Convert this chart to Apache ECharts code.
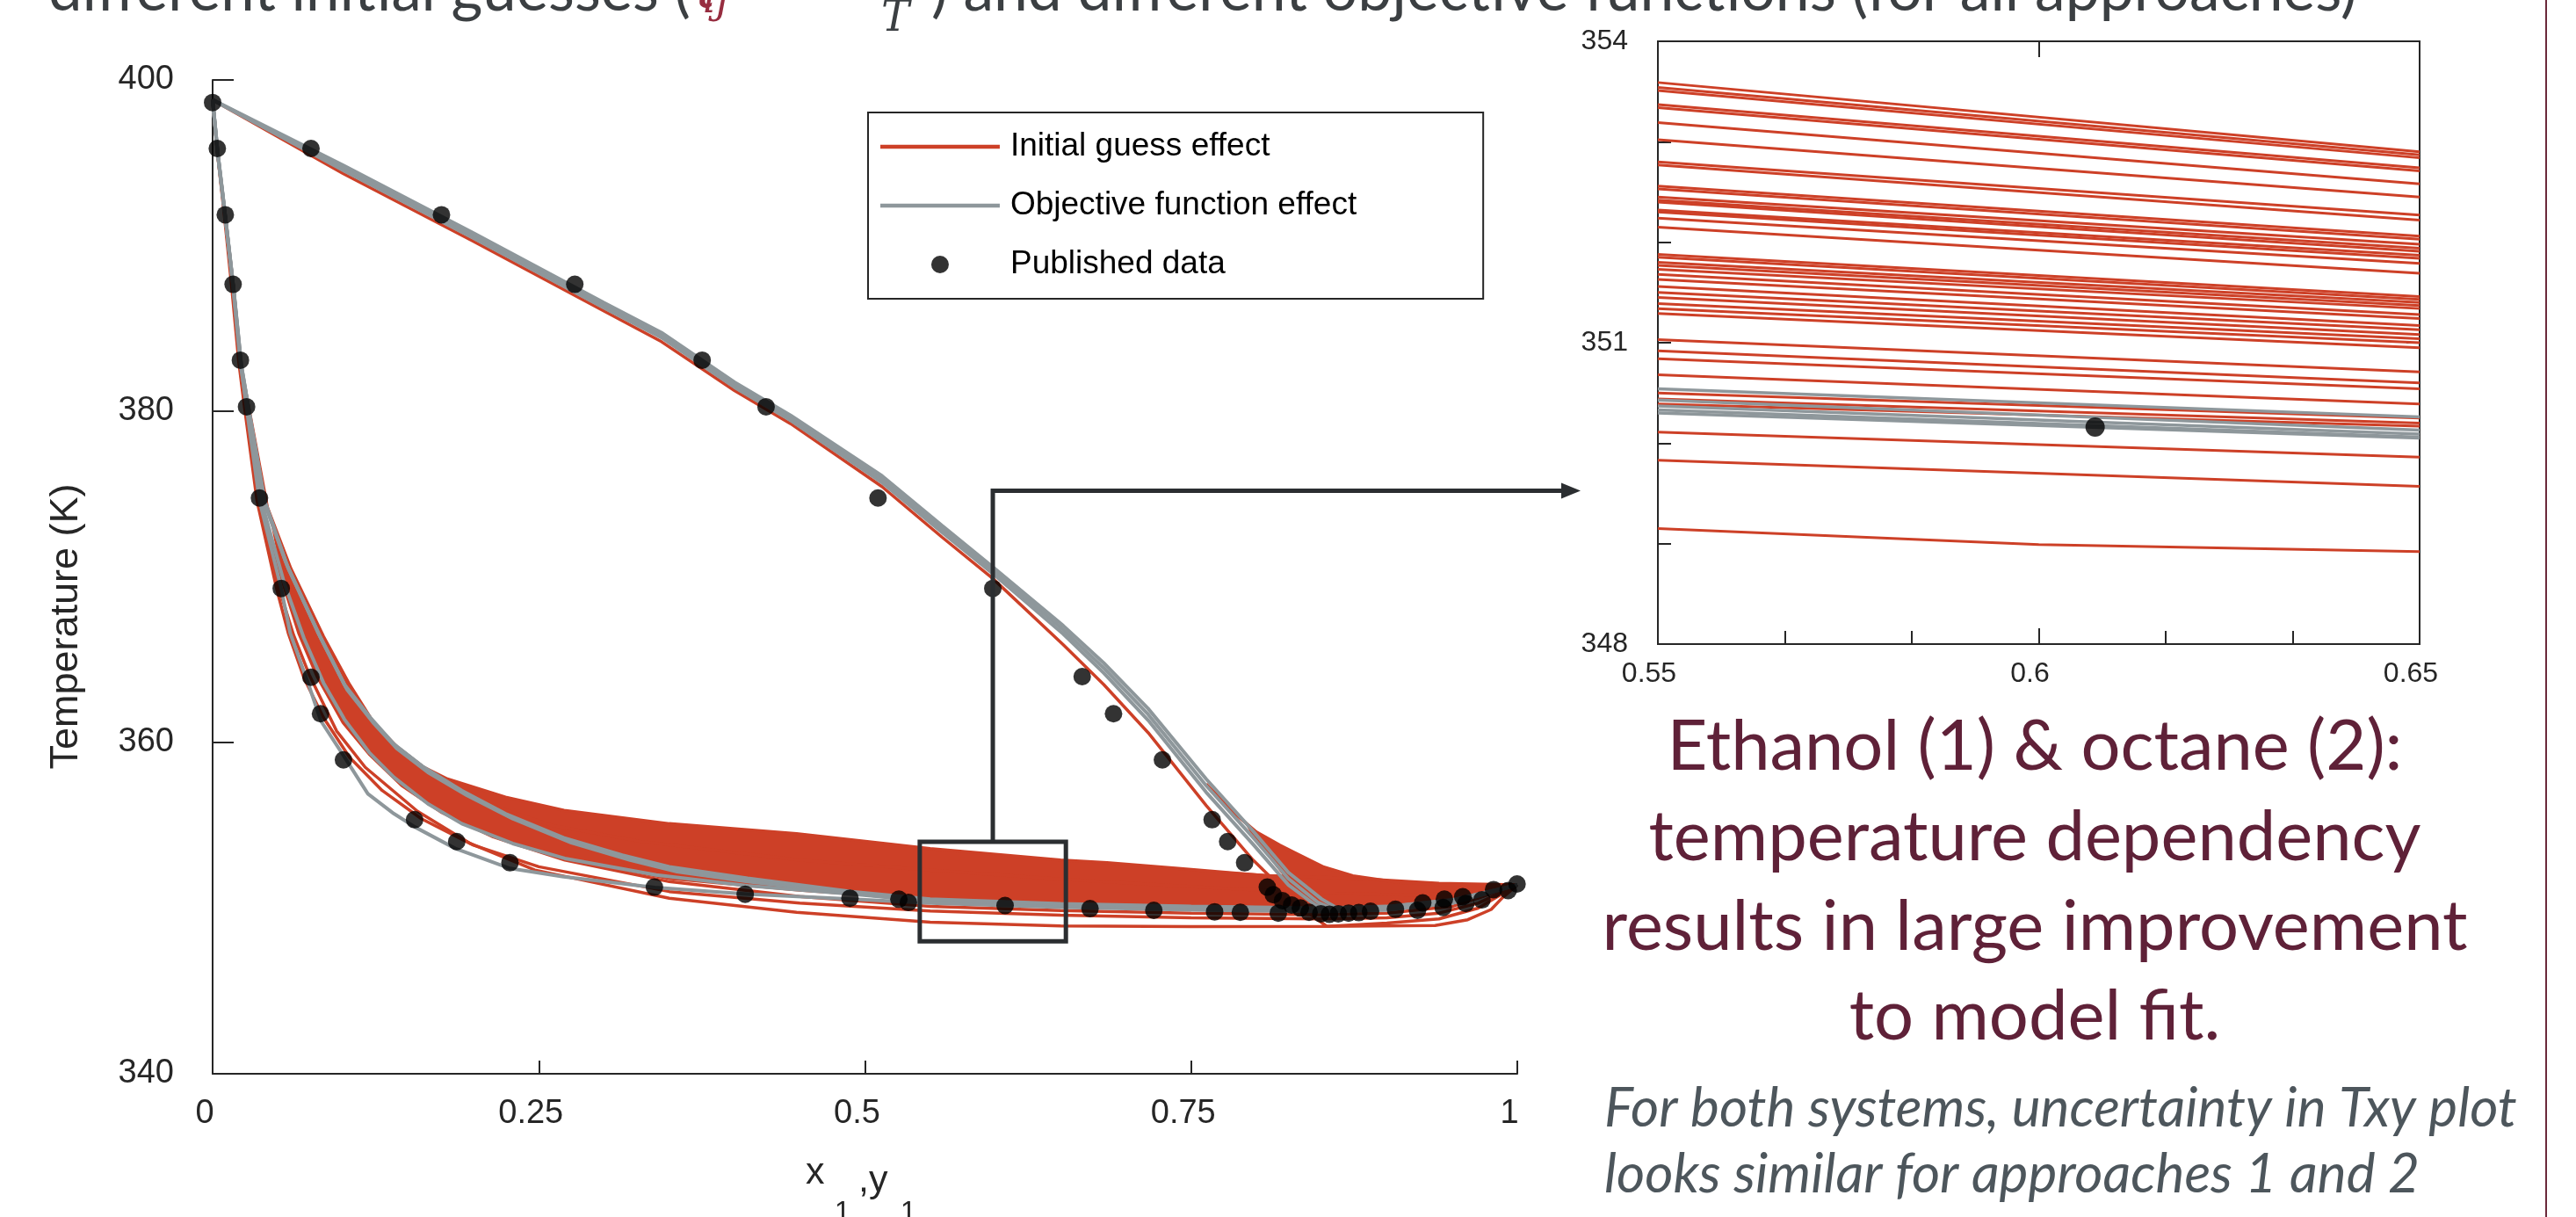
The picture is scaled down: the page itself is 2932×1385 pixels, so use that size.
<!DOCTYPE html>
<html>
<head>
<meta charset="utf-8">
<script src="https://cdn.jsdelivr.net/npm/echarts/dist/echarts.min.js"></script>
<style>
  html, body { margin: 0; padding: 0; background: #fff; }
  #main { width: 2932px; height: 1385px; }
</style>
</head>
<body>
<div id="main"></div>
<script>
// published points, x1 or y1 against T (K)
var pubX = [0, 0.0036, 0.0754, 0.0097, 0.1754, 0.0157, 0.2776, 0.0213, 0.3752, 0.026, 0.4242,
  0.0359, 0.510, 0.0526, 0.598, 0.0754, 0.6665, 0.0827, 0.6905, 0.1003, 0.728, 0.1548, 0.7661,
  0.1871, 0.778, 0.2279, 0.791, 0.3386, 0.8084, 0.4082, 0.813, 0.4885, 0.820, 0.526, 0.827,
  0.5333, 0.8337, 0.6074, 0.6725, 0.7214, 0.768, 0.7877, 0.8168, 0.8404, 0.8494, 0.856, 0.8628,
  0.8707, 0.8785, 0.8875, 0.9066, 0.9235, 0.9275, 0.9432, 0.9441, 0.9582, 0.9605, 0.9729,
  0.9818, 0.993, 0.9998];
var pubT = [398.64, 395.86, 395.86, 391.86, 391.86, 387.66, 387.66, 383.08, 383.08, 380.27, 380.27,
  374.76, 374.76, 369.3, 369.3, 363.94, 363.98, 361.74, 361.74, 358.95, 358.95, 355.34, 355.34,
  354.02, 354.02, 352.74, 352.74, 351.27, 351.27, 350.84, 350.81, 350.6, 350.45, 350.54, 350.19,
  350.34, 350.01, 350.16, 349.97, 349.87, 349.78, 349.75, 349.7, 349.75, 349.66, 349.63, 349.66,
  349.7, 349.73, 349.81, 349.93, 349.87, 350.32, 350.04, 350.54, 350.69, 350.28, 350.5,
  351.12, 351.06, 351.46];

// objective function effect (grey)
var gBub1 = [[0,398.8],[0.0036,395.8],[0.0097,391.8],[0.0157,387.6],[0.0213,383.0],[0.026,380.2],[0.0359,374.6],[0.0526,369.3],[0.0595,366.6],[0.074,363.4],[0.083,361.3],[0.0988,359.4],[0.119,356.9],[0.139,355.7],[0.155,354.9],[0.186,353.6],[0.228,352.4],[0.269,351.9],[0.339,351.25],[0.41,350.85],[0.49,350.55],[0.55,350.3],[0.65,350.05],[0.75,349.9],[0.85,349.8],[0.9,349.9],[0.95,350.3],[1,351.4]];
var gBub2 = [[0,398.8],[0.0036,395.7],[0.0097,391.7],[0.0157,387.5],[0.0213,382.9],[0.027,379.9],[0.038,374.4],[0.055,369.6],[0.07,366.3],[0.085,363.6],[0.101,361.4],[0.12,359.4],[0.139,357.9],[0.165,356.3],[0.191,355.1],[0.23,353.9],[0.27,353.0],[0.34,352.0],[0.41,351.35],[0.49,350.85],[0.55,350.43],[0.65,350.15],[0.75,350.0],[0.85,349.9],[0.9,350.0],[0.95,350.4],[1,351.4]];
var gBub3 = [[0,398.8],[0.004,395.5],[0.01,391.5],[0.016,387.4],[0.022,382.7],[0.028,379.9],[0.04,374.4],[0.056,370.9],[0.081,366.6],[0.101,363.5],[0.121,361.5],[0.139,359.9],[0.162,358.5],[0.191,357.1],[0.2245,355.7],[0.269,354.25],[0.314,353.2],[0.35,352.5],[0.41,351.8],[0.49,351.0],[0.55,350.54],[0.65,350.26],[0.75,350.1],[0.85,350.0],[0.9,350.1],[0.95,350.5],[1,351.4]];
var gBub4 = [[0,398.8],[0.004,395.55],[0.01,391.55],[0.016,387.45],[0.022,382.75],[0.028,379.95],[0.04,374.5],[0.057,370.7],[0.082,366.45],[0.102,363.35],[0.122,361.35],[0.14,359.8],[0.164,358.35],[0.193,356.95],[0.227,355.55],[0.272,354.1],[0.317,353.05],[0.353,352.35],[0.41,351.7],[0.49,350.95],[0.55,350.5],[0.65,350.22],[0.75,350.08],[0.85,349.98],[0.9,350.08],[0.95,350.48],[1,351.4]];
var gBub5 = [[0,398.8],[0.004,395.6],[0.01,391.6],[0.016,387.5],[0.022,382.8],[0.028,380.0],[0.04,374.6],[0.058,370.5],[0.083,366.3],[0.103,363.2],[0.123,361.2],[0.141,359.65],[0.165,358.2],[0.195,356.8],[0.23,355.4],[0.275,353.95],[0.32,352.9],[0.356,352.2],[0.41,351.6],[0.49,350.9],[0.55,350.37],[0.65,350.1],[0.75,349.97],[0.85,349.88],[0.9,349.98],[0.95,350.4],[1,351.4]];
var gDew1 = [[0,398.8],[0.1,394.7],[0.2,390.6],[0.3,386.4],[0.344,384.6],[0.4,381.6],[0.443,379.6],[0.513,375.9],[0.559,372.9],[0.598,370.4],[0.652,366.8],[0.683,364.5],[0.717,361.7],[0.7615,357.4],[0.7975,354.26],[0.8246,351.78],[0.847,350.36],[0.86,349.9],[0.9,349.95],[0.95,350.35],[1,351.4]];
var gDew2 = [[0,398.8],[0.1,394.85],[0.2,390.75],[0.3,386.55],[0.344,384.75],[0.4,381.75],[0.443,379.75],[0.513,376.1],[0.559,373.1],[0.598,370.6],[0.652,367.05],[0.683,364.8],[0.717,362.05],[0.7615,357.8],[0.7975,354.65],[0.8246,352.15],[0.85,350.55],[0.863,349.95],[0.9,350.0],[0.95,350.4],[1,351.4]];
var gDew3 = [[0,398.8],[0.1,394.55],[0.2,390.45],[0.3,386.25],[0.344,384.45],[0.4,381.45],[0.443,379.45],[0.513,375.7],[0.559,372.7],[0.598,370.2],[0.652,366.55],[0.683,364.2],[0.717,361.35],[0.7615,357.0],[0.7975,353.85],[0.8246,351.4],[0.845,350.2],[0.856,349.85],[0.9,349.9],[0.95,350.3],[1,351.4]];

// initial guess effect (red)
var rBubTop = [[0,398.8],[0.004,395.4],[0.01,391.4],[0.016,387.3],[0.022,382.6],[0.029,379.7],[0.042,374.2],[0.06,370.5],[0.085,366.4],[0.105,363.5],[0.125,361.0],[0.1437,359.4],[0.157,358.7],[0.18,357.8],[0.2245,356.7],[0.2694,355.9],[0.35,355.1],[0.4476,354.5],[0.55,353.6],[0.65,352.9],[0.6855,352.75],[0.74,352.4],[0.8067,351.96],[0.874,351.8],[0.94,351.5],[1,351.4]];
var rBubMid = [[0,398.8],[0.004,395.5],[0.01,391.5],[0.016,387.4],[0.022,382.7],[0.028,379.8],[0.041,374.3],[0.058,370.7],[0.083,366.5],[0.103,363.5],[0.123,361.2],[0.142,359.7],[0.17,358.0],[0.21,356.3],[0.26,355.0],[0.33,354.0],[0.45,352.9],[0.55,352.3],[0.65,351.75],[0.75,351.3],[0.85,350.9],[0.92,350.8],[0.97,351.0],[1,351.4]];
var rBub1 = [[0,398.8],[0.0036,395.8],[0.0095,391.8],[0.015,387.6],[0.0205,383.0],[0.025,380.2],[0.035,374.6],[0.051,369.3],[0.062,366.5],[0.074,364.1],[0.095,360.7],[0.117,358.5],[0.157,355.85],[0.1975,353.9],[0.247,352.3],[0.35,350.6],[0.4476,349.75],[0.55,349.15],[0.65,348.92],[0.75,348.88],[0.85,348.9],[0.937,348.95],[0.962,349.3],[0.98,349.92],[0.9886,350.63],[1,351.4]];
var rBub2 = [[0,398.8],[0.0034,395.8],[0.009,391.8],[0.0145,387.6],[0.02,383.0],[0.0245,380.2],[0.034,374.6],[0.049,369.3],[0.058,366.6],[0.07,363.9],[0.085,361.5],[0.105,359.1],[0.13,357.1],[0.16,355.4],[0.2,353.8],[0.25,352.5],[0.35,351.0],[0.45,350.3],[0.55,349.83],[0.65,349.57],[0.75,349.42],[0.85,349.35],[0.9,349.42],[0.94,349.7],[0.97,350.3],[1,351.4]];
var rBub3 = [[0,398.8],[0.0037,395.7],[0.0098,391.7],[0.016,387.5],[0.0215,382.9],[0.0265,380.0],[0.037,374.4],[0.054,369.6],[0.066,366.6],[0.08,364.0],[0.1,361.2],[0.12,359.3],[0.145,357.4],[0.175,355.8],[0.215,354.3],[0.27,352.9],[0.35,351.6],[0.45,350.7],[0.55,350.11],[0.65,349.86],[0.75,349.7],[0.85,349.6],[0.9,349.7],[0.95,350.1],[1,351.4]];
var rDew1 = [[0,398.8],[0.1,394.35],[0.2,390.25],[0.3,386.05],[0.344,384.2],[0.4,381.25],[0.443,379.25],[0.513,375.45],[0.559,372.4],[0.598,369.9],[0.652,365.9],[0.683,363.5],[0.717,360.6],[0.7615,356.2],[0.7975,352.9],[0.8157,351.5],[0.835,350.0],[0.854,348.9],[0.9,349.1],[0.94,349.35],[0.97,350.0],[1,351.4]];
var rDewTop = [[0.7615,357.5],[0.785,355.6],[0.8,354.6],[0.818,353.8],[0.829,353.37],[0.8517,352.48],[0.874,351.95],[0.9077,351.56],[0.9414,351.42],[0.9818,351.39],[1,351.4]];
// outline of the dense red bundle
var redBand = [[0.042,374.2],[0.06,370.5],[0.085,366.4],[0.105,363.5],[0.125,361.0],[0.1437,359.4],[0.157,358.7],[0.18,357.8],[0.2245,356.7],[0.2694,355.9],[0.35,355.1],[0.4476,354.5],[0.55,353.6],[0.65,352.9],[0.6855,352.75],[0.74,352.4],[0.82,352.0],[0.7975,354.26],[0.79,355.3],[0.8,354.6],[0.818,353.8],[0.829,353.37],[0.8517,352.48],[0.874,351.95],[0.9077,351.56],[0.9414,351.42],[0.9818,351.39],[1,351.4],
  [0.97,350.5],[0.93,350.0],[0.88,349.85],[0.8,349.95],[0.7,350.1],[0.65,350.2],[0.55,350.45],[0.45,351.0],[0.35,351.7],[0.27,352.9],[0.215,354.3],[0.175,355.8],[0.145,357.4],[0.12,359.3],[0.1,361.2],[0.08,364.0],[0.066,366.6],[0.054,369.6],[0.042,374.2]];

// zoom box on main plot and its leader
var boxX = [0.542, 0.654];
var boxT = [348, 354];
var leader = [[0.598,354],[0.598,375.2],[1.0485,375.2]];

// inset: each curve at x1 = 0.55 and 0.65
var insetRedL = [353.59,353.54,353.51,353.37,353.34,353.19,353.02,352.80,352.77,352.56,352.53,352.45,352.42,352.40,352.32,352.30,352.24,352.15,351.88,351.85,351.80,351.77,351.73,351.68,351.63,351.56,351.50,351.45,351.39,351.34,351.29,351.03,350.92,350.84,350.68,350.50,350.44,350.39,350.11,349.83,349.15];
var insetRedR = [352.90,352.87,352.84,352.74,352.71,352.58,352.45,352.27,352.22,352.06,352.03,351.98,351.94,351.91,351.87,351.84,351.79,351.69,351.46,351.43,351.40,351.37,351.34,351.28,351.24,351.17,351.13,351.08,351.04,351.00,350.95,350.71,350.60,350.54,350.39,350.25,350.20,350.17,349.86,349.57,348.92];
var insetLowMid = [0.6, 348.99];
var insetGrayL = [350.54,350.43,350.37,350.33,350.30];
var insetGrayR = [350.26,350.13,350.09,350.06,350.05];

var RED = '#cd4027', GRAY = '#8e979b', INK = '#262626', DARK = '#2b2e31';
var CHART_FONT = 'Liberation Sans';
var LINE_ICON = 'path://M0,0L136,0L136,0.01ZM0,7.75L136,7.75L136,12.25L0,12.25ZM0,20L136,20L136,20.01Z';

var chart = echarts.init(document.getElementById('main'));

function curve(name, color, data, width, idx, z) {
  return {
    type: 'line', name: name, data: data, xAxisIndex: idx, yAxisIndex: idx,
    symbol: 'none', lineStyle: { color: color, width: width }, itemStyle: { color: color },
    z: z, silent: true
  };
}

var pubPts = pubX.map(function(x, i) { return [x, pubT[i]]; });

var series = [];
[rBubTop, rBubMid, rBub3, rBub2, rBub1, rDew1, rDewTop].forEach(function(d) {
  series.push(curve('Initial guess effect', RED, d, 3.5, 0, 3));
});
series.push({
  type: 'custom', name: 'band', xAxisIndex: 0, yAxisIndex: 0, z: 2, silent: true,
  data: [[0.5, 370]],
  renderItem: function(params, api) {
    return { type: 'polygon', shape: { points: redBand.map(function(p) { return api.coord(p); }) },
      style: { fill: RED } };
  }
});
[gBub1, gBub2, gBub5, gBub4, gBub3, gDew3, gDew1, gDew2].forEach(function(d) {
  series.push(curve('Objective function effect', GRAY, d, 4, 0, 4));
});
series.push({
  type: 'scatter', name: 'Published data', data: pubPts, xAxisIndex: 0, yAxisIndex: 0,
  symbol: 'circle', symbolSize: 20, itemStyle: { color: '#000' }, z: 5, silent: true
});
series.push({
  type: 'custom', name: 'callout', xAxisIndex: 0, yAxisIndex: 0, z: 6, silent: true, clip: false,
  data: [[0.5, 370]],
  renderItem: function(params, api) {
    var a = api.coord([boxX[0], boxT[0]]), b = api.coord([boxX[1], boxT[1]]);
    var lp = leader.map(function(p) { return api.coord(p); });
    var tip = lp[lp.length - 1];
    return { type: 'group', children: [
      { type: 'rect', shape: { x: a[0], y: b[1], width: b[0] - a[0], height: a[1] - b[1] },
        style: { fill: 'none', stroke: DARK, lineWidth: 5 } },
      { type: 'polyline', shape: { points: [lp[0], lp[1], [tip[0] - 16, tip[1]]] },
        style: { fill: 'none', stroke: DARK, lineWidth: 5 } },
      { type: 'polygon', shape: { points: [[tip[0], tip[1]], [tip[0] - 22, tip[1] - 9], [tip[0] - 22, tip[1] + 9]] },
        style: { fill: DARK } }
    ] };
  }
});

// inset lines
insetRedL.forEach(function(v, i) {
  var d = [[0.55, v], [0.65, insetRedR[i]]];
  if (i === insetRedL.length - 1) d.splice(1, 0, insetLowMid);
  series.push(curve('Initial guess effect', RED, d, 3, 1, 3));
});
insetGrayL.forEach(function(v, i) {
  series.push(curve('Objective function effect', GRAY, [[0.55, v], [0.65, insetGrayR[i]]], 3.5, 1, 4));
});
series.push({
  type: 'scatter', name: 'Published data', data: pubPts, xAxisIndex: 1, yAxisIndex: 1,
  symbol: 'circle', symbolSize: 22, itemStyle: { color: '#000' }, z: 5, silent: true
});

var tickStyle = { color: INK, width: 2 };
function labelStyle(size, extra) {
  var s = { color: INK, fontSize: size, fontFamily: CHART_FONT };
  for (var k in extra) s[k] = extra[k];
  return s;
}

// slide text, sized to the widths in the picture
var mctx = document.createElement('canvas').getContext('2d');
function fitSize(text, style, family, width) {
  mctx.font = style + ' 100px ' + family;
  return 100 * width / mctx.measureText(text).width;
}
function txt(text, x, y, size, style, family, fill, align) {
  return { type: 'text', x: x, y: y, silent: true, style: {
    text: text, font: style + ' ' + size + 'px ' + family, fill: fill,
    textAlign: align || 'left', textVerticalAlign: 'middle', verticalAlign: 'middle' } };
}

var SLIDE = 'Lato';
var headA = 'different initial guesses (';
var headB = ') and different objective functions (for all approaches)';
var sA = fitSize(headA, 'normal', SLIDE, 731);
var sB = fitSize(headB, 'normal', SLIDE, 1623);
var noteLines = ['Ethanol (1) & octane (2):', 'temperature dependency', 'results in large improvement', 'to model fit.'];
var sNote = fitSize(noteLines[2], 'normal', SLIDE, 985);
var itLines = ['For both systems, uncertainty in Txy plot', 'looks similar for approaches 1 and 2'];
var sIt = fitSize(itLines[0], 'italic', SLIDE, 1039);

var graphics = [
  txt(headA, 55, 12 - 0.32 * sA, sA, 'normal', SLIDE, '#3b3f42'),
  txt('\u03c4', 782, 12 - 0.32 * sA, sA, 'italic', 'DejaVu Serif', '#972d40'),
  txt('ij', 800, 17 - 0.32 * 46, 46, 'italic', 'DejaVu Serif', '#972d40'),
  txt('T', 1003, 38 - 0.32 * 48, 48, 'italic', 'DejaVu Serif', '#3b3f42'),
  txt(headB, 1060, 12 - 0.32 * sB, sB, 'normal', SLIDE, '#3b3f42'),
  txt('Temperature (K)', 0, 0, 45, 'normal', CHART_FONT, INK, 'center'),
  txt('x', 917, 1348 - 0.31 * 43, 43, 'normal', CHART_FONT, INK),
  txt('1', 950, 1390 - 0.31 * 32, 32, 'normal', CHART_FONT, INK),
  txt(',y', 977, 1357 - 0.31 * 43, 43, 'normal', CHART_FONT, INK),
  txt('1', 1025, 1390 - 0.31 * 32, 32, 'normal', CHART_FONT, INK),
  { type: 'line', silent: true, shape: { x1: 2898, y1: 0, x2: 2898, y2: 1385 },
    style: { stroke: '#6b2a3a', lineWidth: 2 } }
];
// rotated axis title
graphics[5].x = 76; graphics[5].y = 713; graphics[5].rotation = Math.PI / 2;
var baseY = [876, 979, 1081, 1183];
noteLines.forEach(function(t, i) {
  graphics.push(txt(t, 2316, baseY[i] - 0.32 * sNote, sNote, 'normal', SLIDE, '#5f2138', 'center'));
});
var itY = [1282, 1357];
itLines.forEach(function(t, i) {
  graphics.push(txt(t, 1826, itY[i] - 0.32 * sIt, sIt, 'italic', SLIDE, '#4d565c'));
});

chart.setOption({
  animation: false,
  backgroundColor: '#fff',
  grid: [
    { left: 242, top: 91, width: 1485, height: 1131 },
    { left: 1887, top: 47, width: 867, height: 686, show: true, borderColor: INK, borderWidth: 2, backgroundColor: 'transparent' }
  ],
  legend: {
    left: 988, top: 128, orient: 'vertical', selectedMode: false,
    data: [
      { name: 'Initial guess effect', icon: LINE_ICON },
      { name: 'Objective function effect', icon: LINE_ICON },
      { name: 'Published data', icon: 'circle' }
    ],
    itemWidth: 136, itemHeight: 20, itemGap: 27, padding: [19, 144, 19, 14],
    borderColor: INK, borderWidth: 2, backgroundColor: '#fff',
    textStyle: { fontSize: 37, fontFamily: CHART_FONT, color: '#000', lineHeight: 40, padding: [0, 0, 0, 7] }
  },
  xAxis: [
    { gridIndex: 0, type: 'value', min: 0, max: 1, interval: 0.25,
      axisLine: { lineStyle: tickStyle }, axisTick: { inside: true, length: 15, lineStyle: tickStyle },
      axisLabel: labelStyle(38, { margin: 27, padding: [0, 18, 0, 0] }), splitLine: { show: false } },
    { gridIndex: 1, type: 'value', min: 0.55, max: 0.65, interval: 0.05,
      axisLine: { lineStyle: tickStyle }, axisTick: { inside: true, length: 18, lineStyle: tickStyle },
      minorTick: { show: true, splitNumber: 3, length: 15, lineStyle: tickStyle },
      axisLabel: labelStyle(32, { margin: 18, padding: [0, 20, 0, 0] }), splitLine: { show: false } },
    { gridIndex: 1, type: 'value', position: 'top', min: 0.55, max: 0.65, interval: 0.05,
      axisLine: { show: false }, axisTick: { inside: true, length: 18, lineStyle: tickStyle },
      axisLabel: { show: false }, splitLine: { show: false } }
  ],
  yAxis: [
    { gridIndex: 0, type: 'value', min: 340, max: 400, interval: 20,
      axisLine: { show: true, lineStyle: tickStyle }, axisTick: { show: true, inside: true, length: 24, lineStyle: tickStyle },
      axisLabel: labelStyle(38, { margin: 44, padding: [0, 0, 20, 0] }), splitLine: { show: false } },
    { gridIndex: 1, type: 'value', min: 348, max: 354, interval: 3,
      axisLine: { show: true, lineStyle: tickStyle }, axisTick: { show: true, inside: true, length: 15, lineStyle: tickStyle },
      minorTick: { show: true, splitNumber: 3, length: 15, lineStyle: tickStyle },
      axisLabel: labelStyle(32, { margin: 34, padding: [0, 0, 16, 0] }), splitLine: { show: false } },
    { gridIndex: 1, type: 'value', position: 'right', min: 348, max: 354, interval: 3,
      axisLine: { show: false }, axisTick: { show: true, inside: true, length: 15, lineStyle: tickStyle },
      axisLabel: { show: false }, splitLine: { show: false } }
  ],
  graphic: graphics,
  series: series
});
</script>
</body>
</html>
